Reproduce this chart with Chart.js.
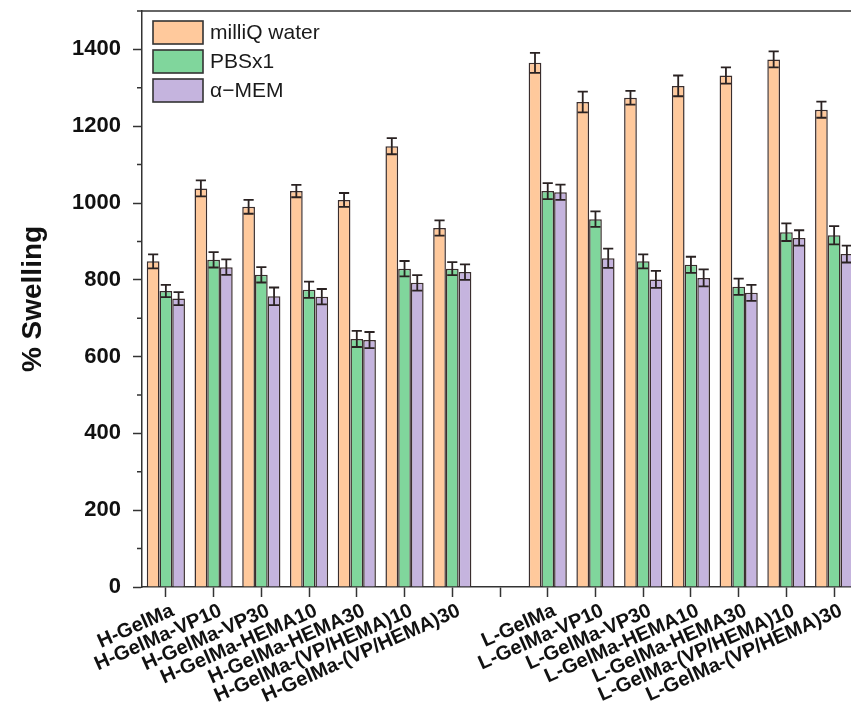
<!DOCTYPE html>
<html>
<head>
<meta charset="utf-8">
<title>% Swelling of GelMa hydrogels</title>
<style>
  html, body { margin: 0; padding: 0; background: #fff; overflow: hidden; width: 851px; height: 715px; }
  #wrap { width: 858px; height: 715px; position: relative; }
  canvas { display: block; }
</style>
<script src="https://cdn.jsdelivr.net/npm/chart.js@4.4.1/dist/chart.umd.min.js"></script>
</head>
<body>
<div id="wrap"><canvas id="chart" width="858" height="715"></canvas></div>
<script>
// Formulations (an empty slot separates the H- and L- series)
const categories = [
  'H-GelMa', 'H-GelMa-VP10', 'H-GelMa-VP30', 'H-GelMa-HEMA10', 'H-GelMa-HEMA30',
  'H-GelMa-(VP/HEMA)10', 'H-GelMa-(VP/HEMA)30', '',
  'L-GelMa', 'L-GelMa-VP10', 'L-GelMa-VP30', 'L-GelMa-HEMA10', 'L-GelMa-HEMA30',
  'L-GelMa-(VP/HEMA)10', 'L-GelMa-(VP/HEMA)30'
];

const seriesNames = ['milliQ water', 'PBSx1', 'α\u2212MEM'];

// Mean swelling (%) per medium
const milliQ = [848, 1038, 990, 1031, 1008, 1148, 935, null, 1365, 1263, 1274, 1305, 1332, 1374, 1243];
const pbs    = [771, 852, 813, 774, 646, 829, 829, null, 1031, 958, 848, 839, 782, 924, 916];
const mem    = [751, 833, 757, 756, 643, 792, 820, null, 1028, 856, 801, 805, 766, 909, 867];

// Standard deviations
const milliQErr = [18, 21, 18, 16, 18, 21, 20, null, 26, 27, 18, 27, 21, 21, 21];
const pbsErr    = [16, 20, 20, 21, 21, 20, 17, null, 21, 20, 18, 21, 21, 23, 24];
const memErr    = [17, 20, 23, 20, 21, 20, 20, null, 20, 25, 22, 22, 21, 20, 22];

const yMin = 0, yMax = 1500, yStep = 100, yLabelStep = 200;

const colors = ['#FFC99C', '#80D69C', '#C5B4DE'];
const edge = '#3a2e2e';
const ink = '#111111';
const FONT = "'Liberation Sans', Arial, Helvetica, sans-serif";

// Error bars with caps, drawn over each bar
const errorBars = {
  id: 'errorBars',
  afterDatasetsDraw(chart) {
    const ctx = chart.ctx;
    const yScale = chart.scales.y;
    ctx.save();
    ctx.strokeStyle = '#2a2222';
    ctx.lineWidth = 1.8;
    chart.data.datasets.forEach((ds, i) => {
      const meta = chart.getDatasetMeta(i);
      meta.data.forEach((bar, j) => {
        const v = ds.data[j], e = ds.errors[j];
        if (v == null || e == null) return;
        const x = bar.x;
        const half = bar.width * 0.4;
        const yt = yScale.getPixelForValue(v + e);
        const yb = yScale.getPixelForValue(v - e);
        ctx.beginPath();
        ctx.moveTo(x, yt); ctx.lineTo(x, yb);
        ctx.moveTo(x - half, yt); ctx.lineTo(x + half, yt);
        ctx.moveTo(x - half, yb); ctx.lineTo(x + half, yb);
        ctx.stroke();
      });
    });
    ctx.restore();
  }
};

// Top frame line, minor y ticks and the boxed legend inside the plot
const frameAndLegend = {
  id: 'frameAndLegend',
  afterDraw(chart) {
    const ctx = chart.ctx;
    const area = chart.chartArea;
    const yScale = chart.scales.y;
    ctx.save();
    ctx.strokeStyle = '#333';
    ctx.lineWidth = 1.5;
    ctx.beginPath();
    ctx.moveTo(area.left, area.top);
    ctx.lineTo(area.right, area.top);
    ctx.stroke();

    // minor ticks
    ctx.beginPath();
    for (let v = yMin + yStep; v <= yMax; v += yLabelStep) {
      const y = yScale.getPixelForValue(v);
      ctx.moveTo(area.left - 5, y);
      ctx.lineTo(area.left, y);
    }
    ctx.stroke();

    // legend
    const bx = area.left + 11, by0 = area.top + 10, bw = 50, bh = 23, gap = 29;
    ctx.font = '21px ' + FONT;
    ctx.textBaseline = 'middle';
    ctx.textAlign = 'left';
    chart.data.datasets.forEach((ds, i) => {
      const by = by0 + i * gap;
      ctx.fillStyle = ds.backgroundColor;
      ctx.fillRect(bx, by, bw, bh);
      ctx.strokeStyle = '#333';
      ctx.lineWidth = 1.6;
      ctx.strokeRect(bx, by, bw, bh);
      ctx.fillStyle = '#1a1a1a';
      ctx.fillText(ds.label, bx + bw + 7, by + bh / 2 + 1);
    });
    ctx.restore();
  }
};

const values = [milliQ, pbs, mem];
const errs = [milliQErr, pbsErr, memErr];

new Chart(document.getElementById('chart'), {
  type: 'bar',
  data: {
    labels: categories,
    datasets: seriesNames.map((name, i) => ({
      label: name,
      data: values[i],
      errors: errs[i],
      backgroundColor: colors[i],
      borderColor: edge,
      borderWidth: 1.5,
      borderSkipped: 'start',
      categoryPercentage: 0.8,
      barPercentage: 1.0
    }))
  },
  options: {
    responsive: false,
    animation: false,
    layout: { padding: { left: 0, top: 11, right: 0, bottom: 0 } },
    plugins: {
      legend: { display: false },
      tooltip: { enabled: false },
      title: { display: false }
    },
    scales: {
      x: {
        type: 'category',
        offset: true,
        grid: {
          offset: false,
          drawOnChartArea: false,
          drawTicks: true,
          tickLength: 10,
          tickColor: '#333',
          tickWidth: 1.5
        },
        border: { display: true, color: '#333', width: 1.5 },
        ticks: {
          autoSkip: false,
          maxRotation: 24,
          minRotation: 24,
          padding: 2,
          labelOffset: 7,
          color: ink,
          font: { family: FONT, size: 20, weight: 'bold' }
        },
        afterFit(scale) {
          scale.height = 128;
          scale.paddingLeft = 0;
          scale.paddingRight = 0;
        }
      },
      y: {
        min: yMin,
        max: yMax,
        grid: {
          drawOnChartArea: false,
          drawTicks: true,
          tickLength: 9,
          tickWidth: 1.5,
          tickColor: (c) => (c.tick && c.tick.value % yLabelStep === 0) ? '#333' : 'rgba(0,0,0,0)'
        },
        border: { display: true, color: '#333', width: 1.5 },
        ticks: {
          stepSize: yStep,
          padding: 12,
          color: ink,
          font: { family: FONT, size: 22, weight: 'bold' },
          callback: (v) => (v % yLabelStep === 0 ? String(v) : '')
        },
        title: {
          display: true,
          text: '% Swelling',
          color: ink,
          font: { family: FONT, size: 28, weight: 'bold' },
          padding: { top: 16, bottom: 0 }
        },
        afterFit(scale) {
          scale.width = 142;
          scale.paddingTop = 0;
          scale.paddingBottom = 0;
        }
      }
    }
  },
  plugins: [errorBars, frameAndLegend]
});
</script>
</body>
</html>
